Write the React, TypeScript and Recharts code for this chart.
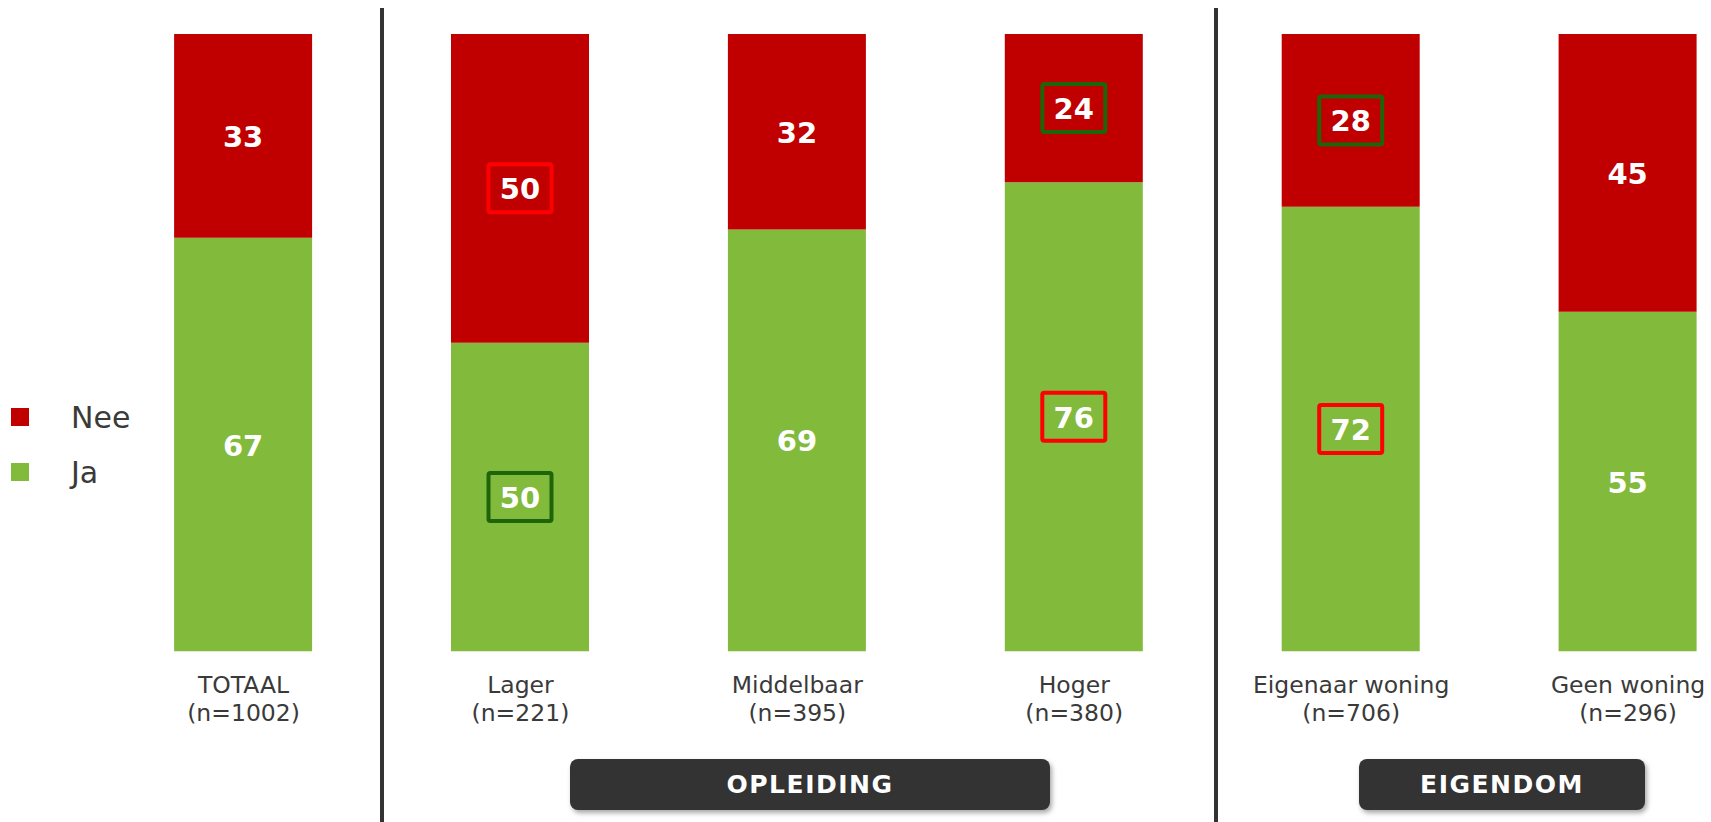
import React from 'react';
import { BarChart, Bar, XAxis, YAxis, LabelList } from 'recharts';

// chart data
const categories = ['TOTAAL', 'Lager', 'Middelbaar', 'Hoger', 'Eigenaar woning', 'Geen woning'];
const sampleSizes = [1002, 221, 395, 380, 706, 296];
const jaValues = [67, 50, 69, 76, 72, 55];
const neeValues = [33, 50, 32, 24, 28, 45];
// significant differences vs total: red = lower, green = higher
const jaMarks = [null, 'green', null, 'red', 'red', null];
const neeMarks = [null, 'red', null, 'green', 'green', null];
const groupLabels = ['OPLEIDING', 'EIGENDOM'];

const RED = '#C00000';
const GREEN = '#82BA3C';
const TEXT = '#3A3A3A';
const FONT = '"DejaVu Sans", Verdana, sans-serif';
const MARK_COLORS: Record<string, string> = { red: '#FF0000', green: '#1E6408' };

const data = categories.map((name, i) => ({
  name,
  n: sampleSizes[i],
  ja: jaValues[i],
  nee: neeValues[i],
}));

const CategoryTick = (props: any) => {
  const { x, y, payload } = props;
  const n = sampleSizes[payload.index];
  return (
    <text x={x} textAnchor="middle" fontFamily={FONT} fontSize={23.5} fill={TEXT}>
      <tspan x={x} y={y + 41.5}>{payload.value}</tspan>
      <tspan x={x} y={y + 70}>(n={n})</tspan>
    </text>
  );
};

const makeValueLabel = (marks: (string | null)[]) => (props: any) => {
  const { x, y, width, height, value, index } = props;
  const cx = x + width / 2;
  const cy = y + height / 2;
  const mark = marks[index];
  return (
    <g>
      {mark && (
        <rect x={cx - 31.5} y={cy - 24} width={63} height={48} rx={2}
          fill="none" stroke={MARK_COLORS[mark]} strokeWidth={4} />
      )}
      <text x={cx} y={cy} dy={1} textAnchor="middle" dominantBaseline="central"
        fontFamily={FONT} fontWeight="bold" fontSize={29} fill="#FFFFFF">
        {value}
      </text>
    </g>
  );
};

const groupBox: React.CSSProperties = {
  position: 'absolute', top: 759, height: 51, background: '#333333', borderRadius: 8,
  boxShadow: '2px 3px 5px rgba(0,0,0,0.35)', color: '#FFFFFF', fontFamily: FONT,
  fontWeight: 'bold', fontSize: 25, letterSpacing: 1.5, display: 'flex',
  alignItems: 'center', justifyContent: 'center',
};

const divider: React.CSSProperties = {
  position: 'absolute', top: 8, width: 4, height: 814, background: '#333333',
};

export default function App() {
  return (
    <div style={{ position: 'absolute', left: 0, top: 0, width: 1711, height: 822, overflow: 'hidden', background: '#fff' }}>
      <BarChart width={1780} height={822} data={data} stackOffset="expand"
        margin={{ top: 34, right: 13.5, bottom: 140.7, left: 105.1 }}>
        <XAxis dataKey="name" height={30} axisLine={false} tickLine={false} tickSize={0} tickMargin={0}
          interval={0} tick={<CategoryTick />} />
        <YAxis hide domain={[0, 1]} />
        <Bar dataKey="ja" stackId="a" fill={GREEN} barSize={138} isAnimationActive={false}>
          <LabelList dataKey="ja" content={makeValueLabel(jaMarks)} />
        </Bar>
        <Bar dataKey="nee" stackId="a" fill={RED} barSize={138} isAnimationActive={false}>
          <LabelList dataKey="nee" content={makeValueLabel(neeMarks)} />
        </Bar>
      </BarChart>

      {/* legend */}
      <div style={{ position: 'absolute', left: 11, top: 399, fontFamily: FONT, fontSize: 30, color: TEXT }}>
        {[{ label: 'Nee', color: RED }, { label: 'Ja', color: GREEN }].map(l => (
          <div key={l.label} style={{ display: 'flex', alignItems: 'center', height: 36, marginBottom: 19 }}>
            <span style={{ width: 18, height: 18, background: l.color, display: 'inline-block' }} />
            <span style={{ marginLeft: 42 }}>{l.label}</span>
          </div>
        ))}
      </div>

      {/* group separators */}
      <div style={{ ...divider, left: 380 }} />
      <div style={{ ...divider, left: 1214 }} />

      {/* group labels */}
      <div style={{ ...groupBox, left: 570, width: 480 }}>{groupLabels[0]}</div>
      <div style={{ ...groupBox, left: 1359, width: 286 }}>{groupLabels[1]}</div>
    </div>
  );
}
